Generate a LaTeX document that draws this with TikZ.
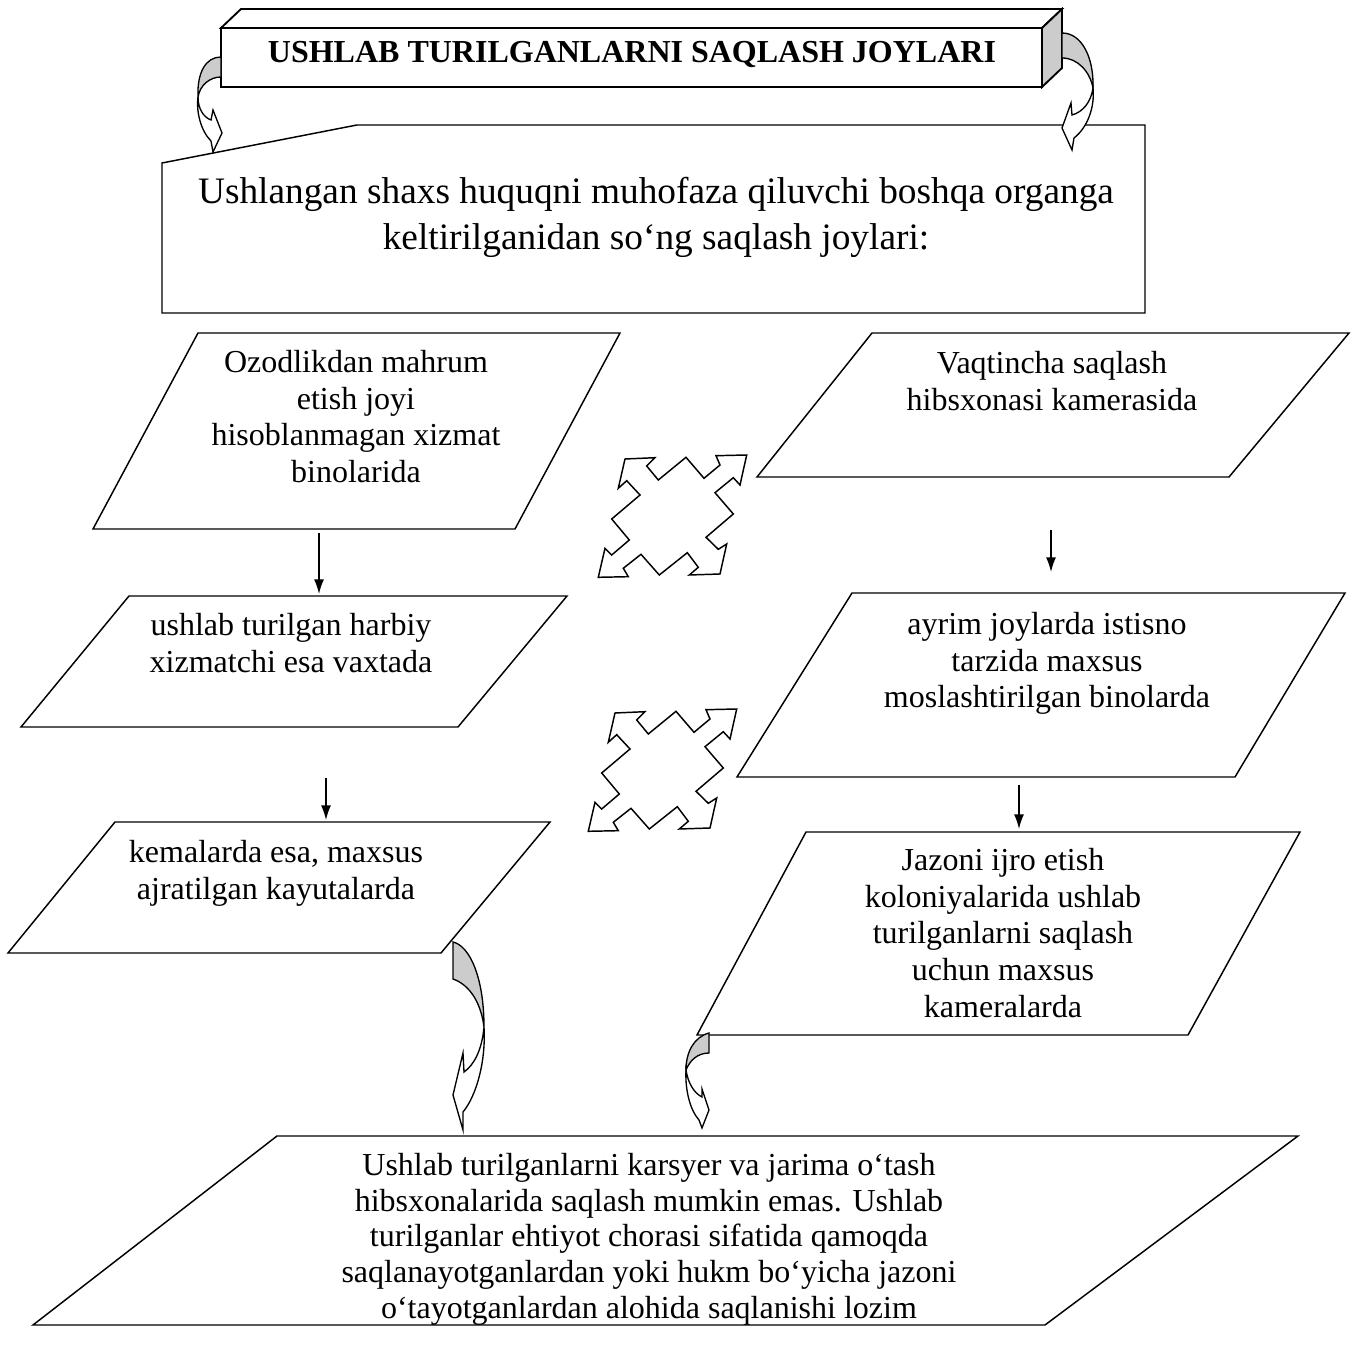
\documentclass[tikz,border=0pt]{standalone}
\usepackage{fontspec}
\setmainfont{Liberation Serif}
\usetikzlibrary{arrows.meta}
\begin{document}
\begin{tikzpicture}[x=0.75pt,y=-0.75pt,
  box/.style={draw=black,line width=1.1pt,fill=white,line join=miter},
  tbox/.style={draw=black,line width=1.4pt,line join=miter},
  txt/.style={align=center,font=\fontsize{24}{27.5}\selectfont,inner sep=0pt,anchor=north},
  arr/.style={line width=1.1pt,-{Latex[length=11pt,width=7.5pt]}},
  curvw/.style={draw=black,line width=1pt,fill=white,line join=miter},
  curvg/.style={draw=black,line width=1pt,fill=black!20,line join=miter},
  fourway/.pic={
    \draw[line width=1.1pt,line join=miter,fill=white]
      (-47,-57) -- (-17,-58.3) -- (-25.3,-50) -- (-13.7,-36) -- (14,-58.7) -- (32,-37.7)
      -- (48,-51) -- (44,-60.3) -- (74.7,-61) -- (68,-31) -- (61.3,-38.3) -- (43,-23.3)
      -- (61.3,-2) -- (34,21.3) -- (46.3,33.3) -- (54.7,28) -- (48,58) -- (17.3,59)
      -- (26.3,51.3) -- (15.3,36.7) -- (-12.7,59) -- (-31,38.3) -- (-48.7,52.3)
      -- (-43.7,60.7) -- (-73.7,61.3) -- (-67,32.3) -- (-60.3,39) -- (-42.7,24)
      -- (-60.3,3) -- (-32,-21) -- (-45.3,-35.3) -- (-53.7,-27.7) -- cycle;
  }]
\useasboundingbox (0,0) rectangle (1365,1358);

% ---- title box (3D)
\draw[tbox,fill=white] (221,28) -- (241,9) -- (1062,9) -- (1042,28) -- cycle;
\draw[tbox,fill=black!20] (1042,28) -- (1062,9) -- (1062,68) -- (1042,87) -- cycle;
\draw[tbox,fill=white] (221,28) rectangle (1042,87);
\node[font=\bfseries\fontsize{24}{28}\selectfont,anchor=base,inner sep=0pt] (title) at (632,63) {USHLAB TURILGANLARNI SAQLASH JOYLARI};

% ---- callout
\draw[box] (162,163) -- (357,125) -- (1145,125) -- (1145,313) -- (162,313) -- cycle;
\node[txt,font=\fontsize{28}{34.5}\selectfont] (ctext) at (656,177) {Ushlangan shaxs huquqni muhofaza qiluvchi boshqa organga\\keltirilganidan so‘ng saqlash joylari:};

% ---- curved arrows from title
\draw[curvg] (221,57) .. controls (206,57) and (197,72) .. (198,97) .. controls (200,85) and (210,77) .. (221,77) -- cycle;
\draw[curvw] (198,97) .. controls (198,108) and (203,117) .. (211,120) -- (213,110) -- (222,133) -- (213,152) -- (211,141) .. controls (201,131) and (196,112) .. (198,97) -- cycle;

\draw[curvg] (1062,33) .. controls (1082,33) and (1094,58) .. (1093,88) .. controls (1090,72) and (1078,58) .. (1062,58) -- cycle;
\draw[curvw] (1093,88) .. controls (1091,102) and (1083,112) .. (1072,115) -- (1071,103) -- (1062,128) -- (1072,150) -- (1074,138) .. controls (1087,128) and (1095,108) .. (1093,88) -- cycle;

% ---- parallelograms
\draw[box] (198,333) -- (620,333) -- (515,529) -- (93,529) -- cycle;
\draw[box] (872,333) -- (1349,333) -- (1229,477) -- (757,477) -- cycle;
\draw[box] (129,596) -- (567,596) -- (458,727) -- (21,727) -- cycle;
\draw[box] (852,593) -- (1345,593) -- (1235,777) -- (737,777) -- cycle;
\draw[box] (115,822) -- (550,822) -- (441,953) -- (8,953) -- cycle;
\draw[box] (806,832) -- (1300,832) -- (1188,1035) -- (697,1035) -- cycle;
\draw[box] (277,1136) -- (1298,1136) -- (1045,1325) -- (33,1325) -- cycle;

\node[txt] (t1) at (356,350) {Ozodlikdan mahrum\\etish joyi\\hisoblanmagan xizmat\\binolarida};
\node[txt] (t2) at (1052,351) {Vaqtincha saqlash\\hibsxonasi kamerasida};
\node[txt] (t3) at (291,613) {ushlab turilgan harbiy\\xizmatchi esa vaxtada};
\node[txt] (t4) at (1047,612) {ayrim joylarda istisno\\tarzida maxsus\\moslashtirilgan binolarda};
\node[txt] (t5) at (276,840) {kemalarda esa, maxsus\\ajratilgan kayutalarda};
\node[txt] (t6) at (1003,848) {Jazoni ijro etish\\koloniyalarida ushlab\\turilganlarni saqlash\\uchun maxsus\\kameralarda};
\node[txt,font=\fontsize{24}{26.8}\selectfont] (t7) at (649,1153) {Ushlab turilganlarni karsyer va jarima o‘tash\\hibsxonalarida saqlash mumkin emas. Ushlab\\turilganlar ehtiyot chorasi sifatida qamoqda\\saqlanayotganlardan yoki hukm bo‘yicha jazoni\\o‘tayotganlardan alohida saqlanishi lozim};

% ---- straight arrows
\coordinate (a1s) at (319,533); \coordinate (a1e) at (319,594);
\coordinate (a2s) at (326,778); \coordinate (a2e) at (326,820);
\coordinate (a3s) at (1051,530); \coordinate (a3e) at (1051,572);
\coordinate (a4s) at (1019,785); \coordinate (a4e) at (1019,829);
\draw[arr] (a1s) -- (a1e);
\draw[arr] (a2s) -- (a2e);
\draw[arr] (a3s) -- (a3e);
\draw[arr] (a4s) -- (a4e);

% ---- four-way arrows
\pic (fw1) at (672,516) {fourway};
\pic (fw2) at (662,770) {fourway};

% ---- curved arrows to bottom box
\draw[curvg] (453,942) .. controls (470,946) and (484,978) .. (484,1027) .. controls (481,1003) and (470,985) .. (453,979) -- cycle;
\draw[curvw] (484,1027) .. controls (482,1050) and (474,1065) .. (464,1072) -- (463,1053) -- (453,1095) -- (463,1130) -- (463,1112) .. controls (477,1095) and (486,1060) .. (484,1027) -- cycle;

\draw[curvg] (709,1033) .. controls (694,1037) and (686,1052) .. (686,1070) .. controls (690,1060) and (698,1053) .. (709,1053) -- cycle;
\draw[curvw] (686,1070) .. controls (688,1083) and (694,1093) .. (702,1097) -- (702,1089) -- (709,1110) -- (702,1128) -- (699,1120) .. controls (690,1110) and (685,1090) .. (686,1070) -- cycle;
\end{tikzpicture}
\end{document}
